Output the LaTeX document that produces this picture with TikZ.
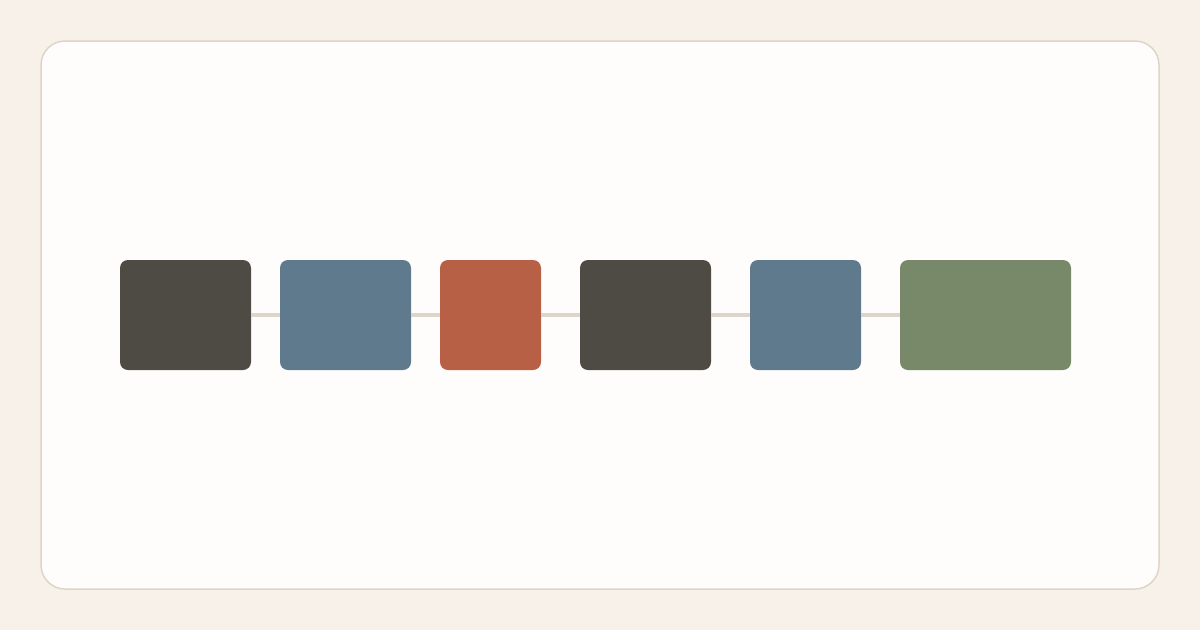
\documentclass[tikz,border=0pt]{standalone}
\usetikzlibrary{positioning}

\definecolor{bakgrund}{HTML}{F7F1EA}
\definecolor{kort}{HTML}{FEFDFB}
\definecolor{kant}{HTML}{DDD5CA}
\definecolor{mork}{HTML}{4E4B44}
\definecolor{bla}{HTML}{5F7A8C}
\definecolor{rod}{HTML}{B86045}
\definecolor{gron}{HTML}{78896A}

\begin{document}
\begin{tikzpicture}[x=1pt, y=-1pt,
		ruta/.style={rounded corners=8pt, minimum height=110pt, inner sep=0pt, draw=none},
		lank/.style={draw=kant, line width=3.5pt}]
		\fill [bakgrund] (0, 0) rectangle (1200, 630); % Bakgrunden
		\useasboundingbox (0, 0) rectangle (1200, 630);
		\draw [kant, fill=kort, line width=1.5pt, rounded corners=24pt] (41, 41) rectangle (1159, 589); % Kortet
		
		\node [ruta, fill=mork, minimum width=131pt] (r1) at (185.5, 315) {}; % Rutorna
		\node [ruta, fill=bla, minimum width=131pt] (r2) at (345.5, 315) {};
		\node [ruta, fill=rod, minimum width=101pt] (r3) at (490.5, 315) {};
		\node [ruta, fill=mork, minimum width=131pt] (r4) at (645.5, 315) {};
		\node [ruta, fill=bla, minimum width=111pt] (r5) at (805.5, 315) {};
		\node [ruta, fill=gron, minimum width=171pt] (r6) at (985.5, 315) {};
		
		\draw [lank] (r1.east) -- (r2.west); % Länkarna
		\draw [lank] (r2.east) -- (r3.west);
		\draw [lank] (r3.east) -- (r4.west);
		\draw [lank] (r4.east) -- (r5.west);
		\draw [lank] (r5.east) -- (r6.west);
	\end{tikzpicture}
\end{document}
